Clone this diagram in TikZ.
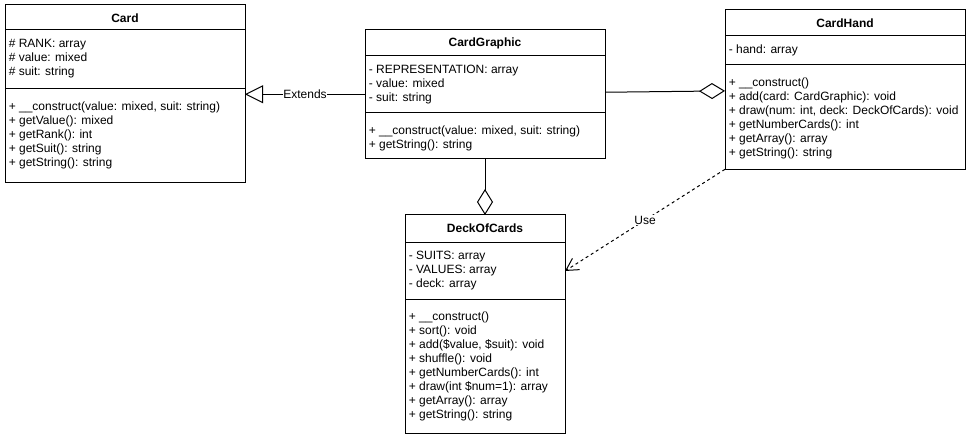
\documentclass[tikz,border=0pt]{standalone}
\usepackage{fontspec}
\setmainfont{Liberation Sans}
\usetikzlibrary{arrows.meta,calc}
\begin{document}
\begin{tikzpicture}[x=0.75pt,y=-0.75pt,
  umlbox/.style={draw, line width=0.75pt, inner sep=0pt, outer sep=0pt, anchor=north west},
  cls/.style={font=\fontsize{9pt}{10.5pt}\selectfont\bfseries, anchor=base, inner sep=0pt},
  members/.style={font=\fontsize{9pt}{10.5pt}\selectfont, align=left, anchor=north west, inner sep=0pt},
  sepline/.style={line width=0.75pt},
  conn/.style={line width=0.75pt},
  lbl/.style={font=\fontsize{9pt}{10.5pt}\selectfont, fill=white, inner sep=0.6pt}]

\useasboundingbox (0,0) rectangle (971,442);

% ---------- Card ----------
\node[umlbox, minimum width=180pt, minimum height=133.5pt] (card) at (5,5) {};
\draw[sepline] (5,30) -- (245,30);
\draw[sepline] (5,89) -- (245,89);
\node[cls] (cardT) at (125,22.6) {Card};
\node[members] (cardA) at (8.5,37.9) {\strut\# RANK: array\\\# value: mixed\\\# suit: string};
\node[members] (cardM) at (8.5,100.9) {\strut+ \_\_construct(value: mixed, suit: string)\\+ getValue(): mixed\\+ getRank(): int\\+ getSuit(): string\\+ getString(): string};

% ---------- CardGraphic ----------
\node[umlbox, minimum width=180pt, minimum height=97.125pt] (cardgraphic) at (365,29.5) {};
\draw[sepline] (365,56) -- (605,56);
\draw[sepline] (365,113) -- (605,113);
\node[cls] (cgT) at (485,47) {CardGraphic};
\node[members] (cgA) at (368.5,63.9) {\strut- REPRESENTATION: array\\- value: mixed\\- suit: string};
\node[members] (cgM) at (368.5,124.9) {\strut+ \_\_construct(value: mixed, suit: string)\\+ getString(): string};

% ---------- CardHand ----------
\node[umlbox, minimum width=180pt, minimum height=120pt] (cardhand) at (725,9.3) {};
\draw[sepline] (725,36) -- (965,36);
\draw[sepline] (725,65) -- (965,65);
\node[cls] (chT) at (845,27.3) {CardHand};
\node[members] (chA) at (728.5,43.9) {\strut- hand: array};
\node[members] (chM) at (728.5,76.9) {\strut+ \_\_construct()\\+ add(card: CardGraphic): void\\+ draw(num: int, deck: DeckOfCards): void\\+ getNumberCards(): int\\+ getArray(): array\\+ getString(): string};

% ---------- DeckOfCards ----------
\node[umlbox, minimum width=120pt, minimum height=163.5pt] (deck) at (405,215) {};
\draw[sepline] (405,242) -- (565,242);
\draw[sepline] (405,299) -- (565,299);
\node[cls] (dT) at (485,233) {DeckOfCards};
\node[members] (dA) at (408.5,249.9) {\strut- SUITS: array\\- VALUES: array\\- deck: array};
\node[members] (dM) at (408.5,310.9) {\strut+ \_\_construct()\\+ sort(): void\\+ add(\$value, \$suit): void\\+ shuffle(): void\\+ getNumberCards(): int\\+ draw(int \$num=1): array\\+ getArray(): array\\+ getString(): string};

% ---------- Connectors ----------
\draw[conn, -{Triangle[open, length=13.5pt, width=13.5pt]}] (cardgraphic.west) -- (card.east |- cardgraphic.west)
  node[lbl, midway] (extlbl) {Extends};
\draw[conn, -{Diamond[open, length=19.5pt, width=12pt]}] ([yshift=1.5pt]cardgraphic.east) -- ([yshift=-1.2pt]cardhand.west);
\draw[conn, -{Diamond[open, length=19.5pt, width=12pt]}] (cardgraphic.south) -- (deck.north);
\coordinate (deckuse) at ($(deck.north east)+(0,56)$);
\draw[conn, dash pattern=on 2.25pt off 2.25pt, -{Straight Barb[length=9pt, width=10pt]}] (cardhand.south west) -- (deckuse)
  node[lbl, midway] (uselbl) {Use};
\end{tikzpicture}
\end{document}
